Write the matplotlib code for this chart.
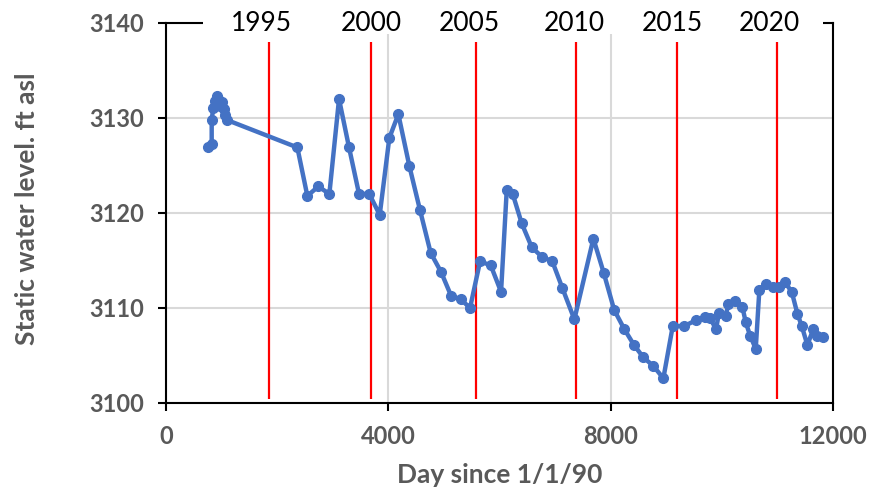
import numpy as np
import matplotlib.pyplot as plt
from matplotlib.patches import Rectangle

plt.rcParams['font.family'] = ['Lato', 'DejaVu Sans']

# well record, day since 1/1/90 vs static water level (ft asl)
days = [761, 822, 822, 851, 880, 912, 941, 970, 1002, 1040, 1061, 1092,
        2363, 2543, 2741, 2939, 3113, 3293, 3473, 3658, 3845, 4018, 4180,
        4380, 4570, 4762, 4948, 5128, 5308, 5470, 5650, 5842, 6028, 6130,
        6238, 6400, 6580, 6760, 6951, 7131, 7347, 7689, 7875, 8063, 8243,
        8420, 8588, 8768, 8948, 9117, 9326, 9530, 9698, 9788, 9896, 9950,
        10070, 10117, 10238, 10370, 10430, 10508, 10610, 10675, 10795,
        10927, 11029, 11137, 11258, 11359, 11438, 11539, 11647, 11707, 11815]
levels = [3126.9, 3127.3, 3129.8, 3131.1, 3131.8, 3132.3, 3132.0, 3131.3,
          3131.7, 3130.9, 3130.3, 3129.8,
          3126.9, 3121.8, 3122.8, 3122.0, 3132.0, 3126.9, 3122.0, 3122.0,
          3119.8, 3127.9, 3130.4,
          3124.9, 3120.3, 3115.8, 3113.8, 3111.3, 3110.9, 3110.0, 3114.9,
          3114.5, 3111.7, 3122.4,
          3122.0, 3118.9, 3116.4, 3115.4, 3114.9, 3112.1, 3108.8, 3117.3,
          3113.7, 3109.8, 3107.8,
          3106.1, 3104.8, 3103.9, 3102.6, 3108.1, 3108.1, 3108.7, 3109.1,
          3108.9, 3107.8, 3109.5,
          3109.2, 3110.4, 3110.7, 3110.1, 3108.5, 3107.1, 3105.7, 3111.9,
          3112.5,
          3112.2, 3112.2, 3112.7, 3111.7, 3109.4, 3108.1, 3106.1, 3107.8,
          3107.0, 3106.9]

year_days = [1859, 3688, 5580, 7380, 9185, 10990]
years = ['1995', '2000', '2005', '2010', '2015', '2020']
year_label_days = [1709, 3688, 5452, 7340, 9104, 10850]

fig = plt.figure(figsize=(8.72, 4.98), dpi=100)
ax = fig.add_axes([166/872, 1-403/498, 667/872, 380/498])

ax.set_xlim(0, 12000)
ax.set_ylim(3100, 3140)
ax.set_xticks([0, 4000, 8000, 12000])
ax.set_yticks([3100, 3110, 3120, 3130, 3140])
ax.grid(True, color='#D9D9D9', lw=1.5)
ax.set_axisbelow(True)

ax.vlines(year_days, 3100.4, 3138, colors='red', lw=1.6, zorder=2)
ax.plot(days, levels, '-o', color='#4472C4', lw=3.2, ms=7, zorder=3)

for s in ax.spines.values():
    s.set_linewidth(1.5)
    s.set_color('black')
ax.tick_params(direction='out', length=6, width=1.5, colors='black',
               labelcolor='#595959', labelsize=17, pad=10)
for lab in ax.get_xticklabels() + ax.get_yticklabels():
    lab.set_fontweight('bold')

# white box over the top spine, years on it
ax.add_patch(Rectangle((0.055, 0.97), 0.93, 0.09, transform=ax.transAxes,
                       facecolor='white', edgecolor='none', clip_on=False, zorder=4))
for d, y in zip(year_label_days, years):
    ax.text(d, 3139.9, y, ha='center', va='center', fontsize=19, color='black', zorder=5)

ax.set_xlabel('Day since 1/1/90', fontsize=19, fontweight='bold', color='#595959')
ax.set_ylabel('Static water level. ft asl', fontsize=19, fontweight='bold', color='#595959')
ax.xaxis.set_label_coords(0.5, -0.158)
ax.yaxis.set_label_coords(-0.19, 0.51)

plt.savefig('out.png', dpi=100)
